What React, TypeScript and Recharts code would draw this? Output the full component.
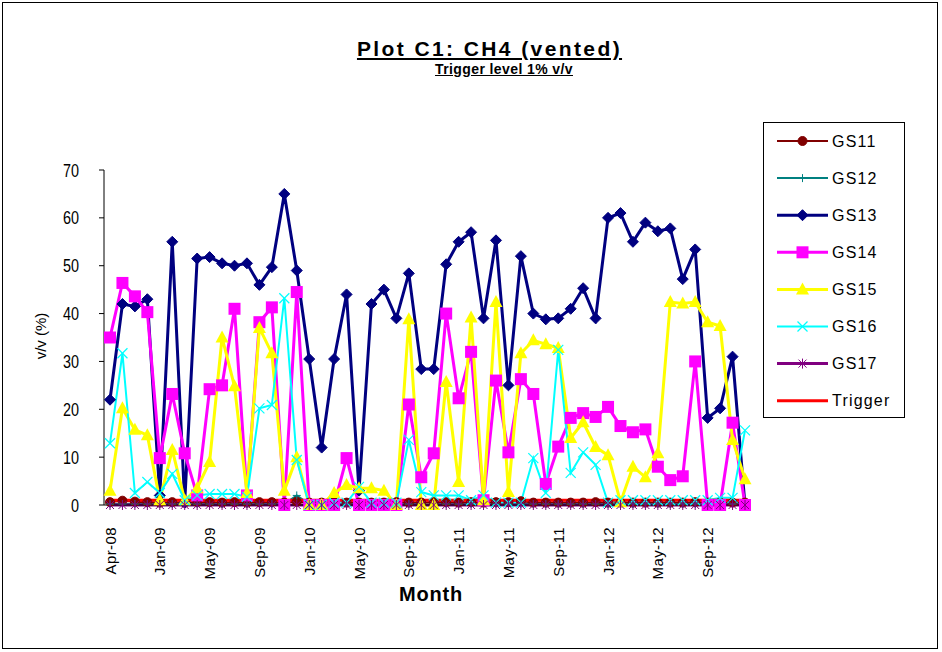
import { LineChart, Line, XAxis, YAxis } from 'recharts';

const months = [
  'Apr-08', 'Jun-08', 'Aug-08', 'Oct-08', 'Jan-09', 'Feb-09', 'Mar-09', 'Apr-09', 'May-09', 'Jun-09', 'Jul-09', 'Aug-09', 'Sep-09',
  'Oct-09', 'Nov-09', 'Dec-09', 'Jan-10', 'Feb-10', 'Mar-10', 'Apr-10', 'May-10', 'Jun-10', 'Jul-10', 'Aug-10', 'Sep-10', 'Oct-10',
  'Nov-10', 'Dec-10', 'Jan-11', 'Feb-11', 'Mar-11', 'Apr-11', 'May-11', 'Jun-11', 'Jul-11', 'Aug-11', 'Sep-11', 'Oct-11', 'Nov-11',
  'Dec-11', 'Jan-12', 'Feb-12', 'Mar-12', 'Apr-12', 'May-12', 'Jun-12', 'Jul-12', 'Aug-12', 'Sep-12', 'Oct-12', 'Nov-12', 'Dec-12',
];

const gs11 = [
  0.6, 0.9, 0.7, 0.6, 0.5, 0.6, 0.5, 0.6, 0.6, 0.5, 0.6, 0.5, 0.6, 0.6, 0.5, 0.7, 0.5, 0.5, 0.6, 0.5, 0.5, 0.5, 0.5, 0.6, 0.5, 0.5,
  0.6, 0.6, 0.5, 0.6, 0.5, 0.6, 0.6, 0.8, 0.5, 0.5, 0.5, 0.5, 0.5, 0.6, 0.5, 0.5, 0.5, 0.5, 0.5, 0.5, 0.5, 0.6, 0.5, 0.5, 0.5, 0.5,
];
const gs12 = [
  0.2, 0.2, 0.2, 0.2, 0.2, 0.2, 0.2, 0.2, 0.2, 0.2, 0.2, 0.2, 0.2, 0.2, 0.2, 2, 0.2, 0.2, 0.2, 0.2, 0.2, 0.2, 0.2, 0.2, 0.2, 0.2,
  0.2, 0.2, 0.2, 0.2, 0.2, 0.2, 0.2, 0.2, 0.2, 0.2, 0.2, 0.2, 0.2, 0.2, 0.2, 0.2, 0.2, 0.2, 0.2, 0.2, 0.2, 0.2, 0.2, 0.2, 0.2, 0.2,
];
const gs13 = [
  22, 42, 41.5, 43, 2, 55, 0.5, 51.5, 51.8, 50.5, 50, 50.5, 46, 49.7, 65, 49, 30.5, 12, 30.5, 44, 3, 42, 45, 39, 48.4, 28.4,
  28.4, 50.3, 55, 57, 39, 55.3, 25, 52, 40, 38.8, 39, 41, 45.3, 39, 60, 61, 55, 59, 57.2, 57.8, 47.2, 53.4, 18.2, 20.2, 31, 0,
];
const gs14 = [
  35, 46.4, 43.6, 40.3, 9.8, 23.2, 10.8, 2, 24.2, 25, 41, 2, 38.2, 41.3, 0, 44.5, 0, 0, 0, 9.8, 0, 0, 0, 0, 21, 5.8,
  10.8, 40, 22.3, 32, 1, 26, 11, 26.3, 23.2, 4.4, 12.2, 18.2, 19.2, 18.4, 20.5, 16.5, 15.2, 15.8, 8, 5.2, 6, 30, 0, 0, 17.2, 0,
];
const gs15 = [
  3, 20.2, 15.7, 14.6, 1, 11.5, 1, 3.5, 9, 35, 24.8, 2.5, 37, 31.7, 3, 10, 0, 0, 2.5, 4.2, 3.5, 3.5, 3, 0, 38.8, 0,
  0, 25.7, 4.8, 39.2, 1, 42.4, 2.7, 31.7, 34.4, 33.6, 32.8, 14, 17.3, 12.1, 10.4, 0.6, 8, 5.8, 10.8, 42.4, 42.1, 42.4, 38.2, 37.4, 13.6, 5.4,
];
const gs16 = [
  12.9, 31.7, 2.5, 4.8, 2.5, 6.5, 1, 2, 2.3, 2.3, 2.3, 1.7, 20.2, 20.9, 43.2, 9.4, 0, 0, 0.5, 0.5, 3.8, 0.5, 0.5, 0.5, 13.6, 2.7,
  2, 2, 2, 1, 2, 0.5, 0.5, 0.5, 9.8, 2.5, 32.4, 6.7, 11, 8.4, 0.5, 1, 1, 1, 1, 1, 1, 1, 1, 1.5, 1.5, 15.6,
];
const gs17 = [
  0, 0, 0, 0, 0, 0, 0, 0, 0, 0, 0, 0, 0, 0, 0, 0, 0, 0, 0, 0, 0, 0, 0, 0, 0, 0,
  0, 0, 0, 0, 0, 0, 0, 0, 0, 0, 0, 0, 0, 0, 0, 0, 0, 0, 0, 0, 0, 0, 0, 0, 0, 0,
];
const trigger = months.map(() => 1);

const yTicks = [0, 10, 20, 30, 40, 50, 60, 70];

const data = months.map((m, i) => ({
  month: m,
  GS11: gs11[i],
  GS12: gs12[i],
  GS13: gs13[i],
  GS14: gs14[i],
  GS15: gs15[i],
  GS16: gs16[i],
  GS17: gs17[i],
  Trigger: trigger[i],
}));

type Marker = 'circle' | 'plus' | 'diamond' | 'square' | 'triangle' | 'cross' | 'star' | 'none';

const series: { key: string; color: string; width: number; marker: Marker }[] = [
  { key: 'GS11', color: '#800000', width: 2, marker: 'circle' },
  { key: 'GS12', color: '#008080', width: 2, marker: 'plus' },
  { key: 'GS13', color: '#000080', width: 3, marker: 'diamond' },
  { key: 'GS14', color: '#FF00FF', width: 3, marker: 'square' },
  { key: 'GS15', color: '#FFFF00', width: 3, marker: 'triangle' },
  { key: 'GS16', color: '#00FFFF', width: 2, marker: 'cross' },
  { key: 'GS17', color: '#800080', width: 3, marker: 'star' },
  { key: 'Trigger', color: '#FF0000', width: 3, marker: 'none' },
];

const FONT = '"Liberation Sans", Arial, sans-serif';

function drawMarker(marker: Marker, color: string, cx: number, cy: number, k?: string) {
  switch (marker) {
    case 'circle':
      return <circle key={k} cx={cx} cy={cy} r={4.5} fill={color} stroke={color} />;
    case 'plus':
      return (
        <g key={k} stroke={color} strokeWidth={1}>
          <line x1={cx - 4} y1={cy} x2={cx + 4} y2={cy} />
          <line x1={cx} y1={cy - 4} x2={cx} y2={cy + 4} />
        </g>
      );
    case 'diamond':
      return <polygon key={k} points={`${cx},${cy - 5.5} ${cx + 5.5},${cy} ${cx},${cy + 5.5} ${cx - 5.5},${cy}`} fill={color} stroke={color} />;
    case 'square':
      return <rect key={k} x={cx - 6} y={cy - 6} width={12} height={12} fill={color} />;
    case 'triangle':
      return <polygon key={k} points={`${cx},${cy - 7} ${cx + 6.5},${cy + 5} ${cx - 6.5},${cy + 5}`} fill={color} />;
    case 'cross':
      return (
        <g key={k} stroke={color} strokeWidth={1.2}>
          <line x1={cx - 5} y1={cy - 5} x2={cx + 5} y2={cy + 5} />
          <line x1={cx - 5} y1={cy + 5} x2={cx + 5} y2={cy - 5} />
        </g>
      );
    case 'star':
      return (
        <g key={k} stroke={color} strokeWidth={1}>
          <line x1={cx - 4} y1={cy - 4} x2={cx + 4} y2={cy + 4} />
          <line x1={cx - 4} y1={cy + 4} x2={cx + 4} y2={cy - 4} />
          <line x1={cx} y1={cy - 5} x2={cx} y2={cy + 5} />
        </g>
      );
    default:
      return <g key={k} />;
  }
}

// rotated month labels, reading bottom to top
function MonthTick(props: any) {
  const { x, y, payload } = props;
  const ty = y + 14;
  return (
    <text
      x={x}
      y={ty}
      transform={`rotate(-90, ${x}, ${ty})`}
      textAnchor="end"
      dominantBaseline="central"
      fontSize={15}
      fontFamily={FONT}
      letterSpacing={0.4}
      fill="#000"
    >
      {payload.value}
    </text>
  );
}

// narrow, tall value labels like the original
function ValueTick(props: any) {
  const { x, y, payload } = props;
  return (
    <g transform={`translate(${x - 20}, ${y}) scale(0.8, 1)`}>
      <text x={0} y={0} textAnchor="end" dominantBaseline="central" fontSize={18} fontFamily={FONT} fill="#000">
        {payload.value}
      </text>
    </g>
  );
}

function ChartLegend() {
  return (
    <div
      style={{
        position: 'absolute',
        left: 763,
        top: 122,
        width: 140,
        height: 294,
        border: '1px solid #000',
        background: '#fff',
      }}
    >
      <svg width={140} height={294}>
        {series.map((s, i) => {
          const y = 18 + i * 37.1;
          return (
            <g key={s.key}>
              <line x1={13} y1={y} x2={64} y2={y} stroke={s.color} strokeWidth={s.width} />
              {drawMarker(s.marker, s.color, 38.5, y)}
              <text x={68} y={y} dominantBaseline="central" fontSize={16} fontFamily={FONT} letterSpacing={1.2} fill="#000">
                {s.key}
              </text>
            </g>
          );
        })}
      </svg>
    </div>
  );
}

export default function App() {
  return (
    <div style={{ position: 'absolute', left: 0, top: 0, width: 942, height: 652, background: '#fff', fontFamily: FONT }}>
      <div style={{ position: 'absolute', left: 2, top: 2, width: 934, height: 645, border: '1px solid #000' }} />
      <div
        style={{
          position: 'absolute',
          left: 0,
          width: 979,
          top: 37,
          textAlign: 'center',
          fontSize: 21,
          letterSpacing: 2.4,
          fontWeight: 'bold',
          textDecoration: 'underline',
        }}
      >
        Plot C1: CH4 (vented)
      </div>
      <div
        style={{
          position: 'absolute',
          left: 0,
          width: 1008,
          top: 61,
          textAlign: 'center',
          fontSize: 14,
          letterSpacing: 0.4,
          fontWeight: 'bold',
          textDecoration: 'underline',
        }}
      >
        Trigger level 1% v/v
      </div>
      <div
        style={{
          position: 'absolute',
          left: 40,
          top: 336,
          transform: 'translate(-50%, -50%) rotate(-90deg)',
          fontSize: 15,
          whiteSpace: 'nowrap',
        }}
      >
        v/v (%)
      </div>
      <div
        style={{
          position: 'absolute',
          left: 431,
          top: 594,
          transform: 'translate(-50%, -50%)',
          fontSize: 20,
          letterSpacing: 0.8,
          fontWeight: 'bold',
          whiteSpace: 'nowrap',
        }}
      >
        Month
      </div>
      <div style={{ position: 'absolute', left: 0, top: 0 }}>
        <LineChart width={942} height={652} data={data} margin={{ top: 170, right: 191, bottom: 0, left: 44 }}>
          <XAxis
            dataKey="month"
            interval={3}
            tickLine={false}
            axisLine={{ stroke: '#000', strokeWidth: 1 }}
            tick={<MonthTick />}
            height={147}
            padding={{ left: 6, right: 6 }}
          />
          <YAxis
            domain={[0, 70]}
            ticks={yTicks}
            interval={0}
            width={60}
            tickSize={5}
            tickMargin={0}
            axisLine={{ stroke: '#000', strokeWidth: 1 }}
            tickLine={{ stroke: '#000' }}
            tick={<ValueTick />}
          />
          {series.map((s) => (
            <Line
              key={s.key}
              type="linear"
              dataKey={s.key}
              stroke={s.color}
              strokeWidth={s.width}
              isAnimationActive={false}
              activeDot={false}
              dot={s.marker === 'none' ? false : (p: any) => drawMarker(s.marker, s.color, p.cx, p.cy, `${s.key}-${p.index}`)}
            />
          ))}
        </LineChart>
      </div>
      <ChartLegend />
    </div>
  );
}
